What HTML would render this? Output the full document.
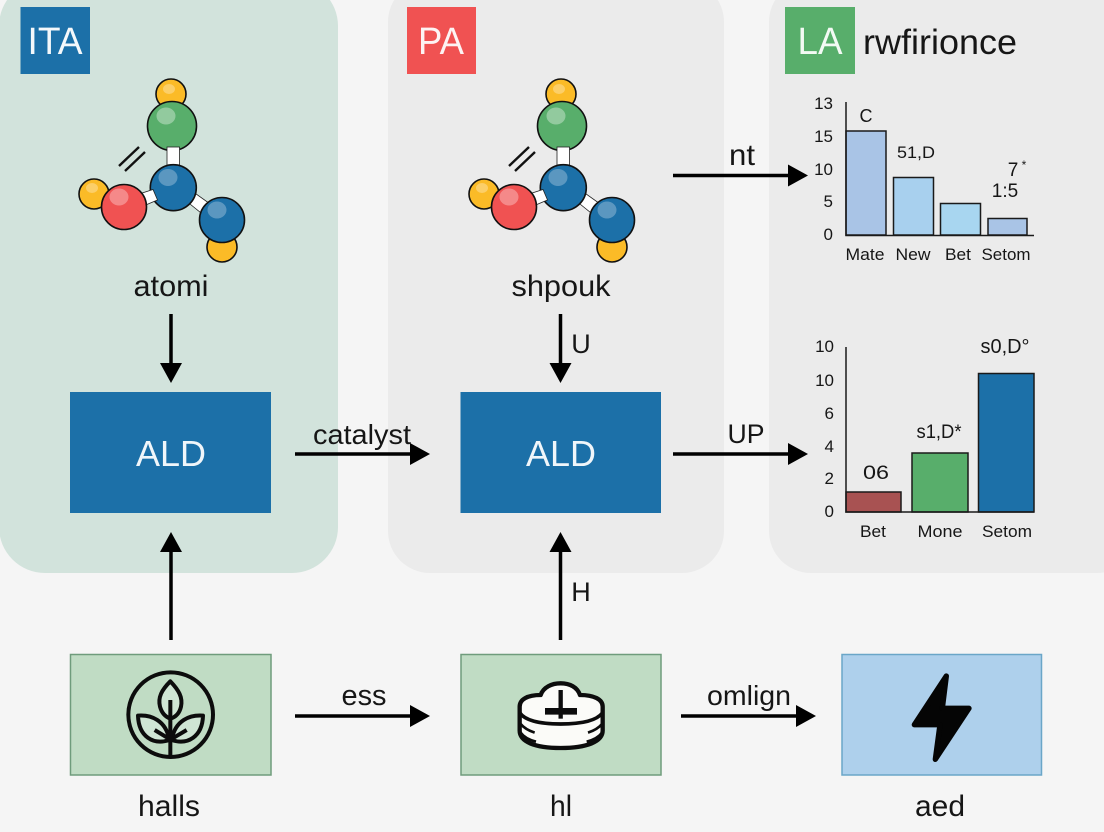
<!DOCTYPE html>
<html>
<head>
<meta charset="utf-8">
<style>
html,body{margin:0;padding:0;background:#f5f5f5;width:1104px;height:832px;overflow:hidden}
svg{display:block}
text{font-family:"Liberation Sans",sans-serif;fill:#161616}
</style>
</head>
<body>
<svg width="1104" height="832" viewBox="0 0 1104 832" xmlns="http://www.w3.org/2000/svg">
<defs>
<marker id="ah" markerUnits="userSpaceOnUse" markerWidth="22" markerHeight="24" refX="14" refY="12" orient="auto">
<path d="M0,1 L20,12 L0,23 Z" fill="#000"/>
</marker>
<g id="mol">
<circle cx="171" cy="94" r="15" fill="#fbbb27" stroke="#111" stroke-width="1.6"/>
<ellipse cx="169" cy="89" rx="6" ry="5" fill="#fff" opacity=".3"/>
<circle cx="222" cy="247" r="15" fill="#fbbb27" stroke="#111" stroke-width="1.6"/>
<circle cx="94" cy="194" r="15" fill="#fbbb27" stroke="#111" stroke-width="1.6"/>
<ellipse cx="92" cy="188" rx="6" ry="5" fill="#fff" opacity=".3"/>
<circle cx="172" cy="126" r="24.5" fill="#58ae6b" stroke="#111" stroke-width="1.6"/>
<ellipse cx="166" cy="116" rx="9.500" ry="8.500" fill="#fff" opacity=".35"/>
<rect x="167" y="147" width="12.500" height="21" fill="#fff" stroke="#222" stroke-width=".8"/>
<path d="M185,200 L205.500,216.500 L213,206 L192,191 Z" fill="#fff" stroke="#222" stroke-width=".8"/>
<circle cx="173.300" cy="187.700" r="23" fill="#1c70a8" stroke="#111" stroke-width="1.6"/>
<ellipse cx="168" cy="177.500" rx="9.500" ry="8.500" fill="#fff" opacity=".28"/>
<path d="M136,195 L153,189.500 L157.500,200 L141,207 Z" fill="#fff" stroke="#222" stroke-width=".8"/>
<circle cx="124" cy="207" r="22.500" fill="#f05252" stroke="#111" stroke-width="1.6"/>
<ellipse cx="119" cy="197" rx="9.500" ry="8.500" fill="#fff" opacity=".32"/>
<circle cx="222" cy="220" r="22.500" fill="#1c70a8" stroke="#111" stroke-width="1.6"/>
<ellipse cx="217" cy="210" rx="9.500" ry="8.500" fill="#fff" opacity=".28"/>
<path d="M119,166 L139,147 M125,171 L145,152" stroke="#111" stroke-width="2.4" fill="none"/>
</g>
</defs>

<rect width="1104" height="832" fill="#f5f5f5"/>
<rect x="-1" y="-20" width="339" height="593" rx="46" fill="#d2e3dc"/>
<rect x="388" y="-20" width="336" height="593" rx="42" fill="#ebebeb"/>
<rect x="769" y="-20" width="370" height="593" rx="42" fill="#ebebeb"/>

<!-- badges -->
<rect x="20.500" y="7" width="69.500" height="67" fill="#1c70a8"/>
<text x="55" y="54" font-size="38" style="fill:#f4f8fb" text-anchor="middle" textLength="55" lengthAdjust="spacingAndGlyphs">ITA</text>
<rect x="407" y="7" width="69" height="67" fill="#f05252"/>
<text x="441" y="54" font-size="38" style="fill:#fdf3f3" text-anchor="middle" textLength="46" lengthAdjust="spacingAndGlyphs">PA</text>
<rect x="785" y="7" width="70" height="67" fill="#58ae6b"/>
<text x="820" y="54" font-size="38" style="fill:#f3faf4" text-anchor="middle" textLength="45" lengthAdjust="spacingAndGlyphs">LA</text>
<text x="863" y="54" font-size="35" textLength="154" lengthAdjust="spacingAndGlyphs">rwfirionce</text>

<!-- molecules -->
<use href="#mol"/>
<use href="#mol" x="390"/>
<text x="171" y="296" font-size="30" text-anchor="middle" textLength="75" lengthAdjust="spacingAndGlyphs">atomi</text>
<text x="561" y="296" font-size="30" text-anchor="middle" textLength="99" lengthAdjust="spacingAndGlyphs">shpouk</text>

<!-- ALD boxes -->
<rect x="70" y="392" width="201" height="121" fill="#1c70a8"/>
<rect x="460.500" y="392" width="200.500" height="121" fill="#1c70a8"/>
<text x="171" y="466" font-size="36" style="fill:#f0f6fa" text-anchor="middle" textLength="70" lengthAdjust="spacingAndGlyphs">ALD</text>
<text x="561" y="466" font-size="36" style="fill:#f0f6fa" text-anchor="middle" textLength="70" lengthAdjust="spacingAndGlyphs">ALD</text>

<!-- bottom boxes -->
<rect x="70.500" y="654.500" width="200.500" height="120.500" fill="#c0dcc4" stroke="#6f9c7c" stroke-width="1.500"/>
<rect x="461" y="654.500" width="200" height="120.500" fill="#c0dcc4" stroke="#6f9c7c" stroke-width="1.500"/>
<rect x="842" y="654.500" width="199.500" height="120.500" fill="#aed0ec" stroke="#6aa6c8" stroke-width="1.500"/>

<!-- plant icon -->
<g transform="translate(60,640) scale(.33333)" fill="none" stroke="#0c0c0c" stroke-width="12" stroke-linejoin="round">
<circle cx="332" cy="224" r="127"/>
<path d="M331,124 C305,150 293,172 300,200 C306,222 320,232 331,236 C344,232 358,222 363,200 C369,172 356,150 331,124 Z" fill="#cfe5d4"/>
<path d="M331,180 V352"/>
<path d="M234,227 C272,224 318,240 328,300 C280,316 236,290 234,227 Z" fill="#cfe5d4"/>
<path d="M429,227 C391,224 345,240 335,300 C383,316 427,290 429,227 Z" fill="#cfe5d4"/>
<path d="M284,270 L330,298 M380,270 L333,298"/>
<circle cx="331" cy="296" r="10" fill="#0c0c0c" stroke="none"/>
</g>

<!-- cloud / stack icon -->
<g transform="translate(450,640) scale(.33333)" stroke="#0c0c0c" stroke-linejoin="round">
<path d="M209,200 C209,178 232,165 272,165 C280,142 305,130 332,130 C360,130 382,142 390,165 C432,165 458,178 458,200 V272 C458,305 410,324 332,324 C254,324 209,305 209,272 Z" fill="#fbfbf8" stroke-width="13"/>
<path d="M209,218 C225,242 270,252 332,252 C394,252 440,242 458,218" fill="none" stroke-width="11"/>
<path d="M212,252 C222,264 236,272 254,278 M212,278 C222,292 238,300 258,305 M456,252 C446,264 432,272 414,278 M456,278 C446,292 430,300 410,305" fill="none" stroke-width="8"/>
<path d="M332,150 V236" fill="none" stroke-width="13"/>
<path d="M285,214 H381" fill="none" stroke-width="20"/>
</g>

<!-- bolt -->
<g transform="translate(830,640) scale(.33333)">
<path d="M349,108 L253,254 L330,254 L316,358 L417,205 L337,205 Z" fill="#050505" stroke="#050505" stroke-width="16" stroke-linejoin="round"/>
</g>

<text x="169" y="816" font-size="30" text-anchor="middle" textLength="62" lengthAdjust="spacingAndGlyphs">halls</text>
<text x="561" y="816" font-size="30" text-anchor="middle" textLength="22" lengthAdjust="spacingAndGlyphs">hl</text>
<text x="940" y="816" font-size="30" text-anchor="middle" textLength="50" lengthAdjust="spacingAndGlyphs">aed</text>

<!-- arrows -->
<g stroke="#000" stroke-width="3.500" fill="none" marker-end="url(#ah)">
<line x1="171" y1="314" x2="171" y2="377"/>
<line x1="560.500" y1="314" x2="560.500" y2="377"/>
<line x1="295" y1="454" x2="424" y2="454"/>
<line x1="673" y1="454" x2="802" y2="454"/>
<line x1="673" y1="175.500" x2="802" y2="175.500"/>
<line x1="171" y1="640" x2="171" y2="538"/>
<line x1="560.500" y1="640" x2="560.500" y2="538"/>
<line x1="295" y1="716" x2="424" y2="716"/>
<line x1="681" y1="716" x2="810" y2="716"/>
</g>
<text x="362" y="444" font-size="28" text-anchor="middle" textLength="98" lengthAdjust="spacingAndGlyphs">catalyst</text>
<text x="742" y="165" font-size="30" text-anchor="middle" textLength="26" lengthAdjust="spacingAndGlyphs">nt</text>
<text x="746" y="443" font-size="27" text-anchor="middle" textLength="37" lengthAdjust="spacingAndGlyphs">UP</text>
<text x="581" y="353" font-size="27" text-anchor="middle">U</text>
<text x="581" y="601" font-size="27" text-anchor="middle">H</text>
<text x="364" y="705" font-size="29" text-anchor="middle" textLength="45" lengthAdjust="spacingAndGlyphs">ess</text>
<text x="749" y="705" font-size="28" text-anchor="middle" textLength="84" lengthAdjust="spacingAndGlyphs">omlign</text>

<!-- chart 1 -->
<g stroke="#1a1a1a" stroke-width="1.500">
<rect x="846" y="131" width="40" height="104" fill="#a9c4e6"/>
<rect x="893.500" y="177.500" width="40" height="57.500" fill="#a8d0ee"/>
<rect x="940.500" y="203.500" width="40" height="31.500" fill="#a8d6f0"/>
<rect x="988" y="218.500" width="39" height="16.500" fill="#a9c4e6"/>
<path d="M846,102 V235.500 H1034" fill="none"/>
</g>
<g font-size="17" text-anchor="end">
<text x="833" y="109">13</text>
<text x="833" y="142">15</text>
<text x="833" y="175">10</text>
<text x="833" y="207">5</text>
<text x="833" y="240">0</text>
</g>
<g font-size="17" text-anchor="middle">
<text x="865" y="260" textLength="39" lengthAdjust="spacingAndGlyphs">Mate</text>
<text x="913" y="260" textLength="35" lengthAdjust="spacingAndGlyphs">New</text>
<text x="958" y="260" textLength="26" lengthAdjust="spacingAndGlyphs">Bet</text>
<text x="1006" y="260" textLength="49" lengthAdjust="spacingAndGlyphs">Setom</text>
<text x="866" y="122" font-size="18">C</text>
<text x="916" y="158" textLength="38" lengthAdjust="spacingAndGlyphs">51,D</text>
<text x="1013" y="176" font-size="19">7</text>
<text x="1024" y="169" font-size="12">*</text>
<text x="1005" y="197" font-size="19">1:5</text>
</g>

<!-- chart 2 -->
<g stroke="#1a1a1a" stroke-width="1.500">
<rect x="846" y="492" width="55" height="20" fill="#a85252"/>
<rect x="912" y="453" width="56" height="59" fill="#58ae6b"/>
<rect x="978.500" y="373.500" width="55.500" height="138.500" fill="#1c70a8"/>
<path d="M846,347 V512 H1034" fill="none"/>
</g>
<g font-size="17" text-anchor="end">
<text x="834" y="352">10</text>
<text x="834" y="386">10</text>
<text x="834" y="419">6</text>
<text x="834" y="452">4</text>
<text x="834" y="484">2</text>
<text x="834" y="517">0</text>
</g>
<g font-size="17" text-anchor="middle">
<text x="873" y="537" textLength="26" lengthAdjust="spacingAndGlyphs">Bet</text>
<text x="940" y="537" textLength="45" lengthAdjust="spacingAndGlyphs">Mone</text>
<text x="1007" y="537" textLength="50" lengthAdjust="spacingAndGlyphs">Setom</text>
<text x="876" y="479" font-size="19" textLength="26" lengthAdjust="spacingAndGlyphs">06</text>
<text x="939" y="438" font-size="19" textLength="45" lengthAdjust="spacingAndGlyphs">s1,D*</text>
<text x="1005" y="353" font-size="20" textLength="49" lengthAdjust="spacingAndGlyphs">s0,D°</text>
</g>
</svg>
</body>
</html>
